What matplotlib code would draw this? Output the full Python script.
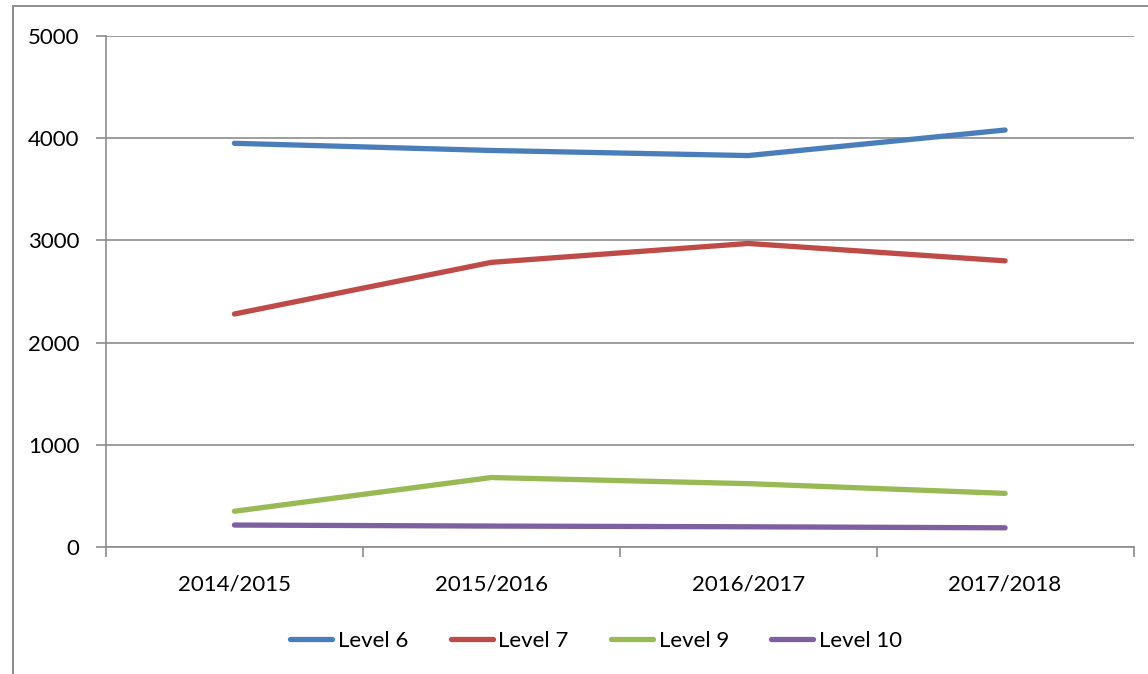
import matplotlib
matplotlib.use('Agg')
import matplotlib.pyplot as plt
from matplotlib.patches import Rectangle

# Values
years = ['2014/2015', '2015/2016', '2016/2017', '2017/2018']
level_6 = [3950, 3880, 3830, 4080]
level_7 = [2280, 2785, 2970, 2800]
level_9 = [350, 680, 620, 525]
level_10 = [215, 205, 198, 188]

series = [
    ('Level 6', level_6, '#4a7ebb'),
    ('Level 7', level_7, '#be4b48'),
    ('Level 9', level_9, '#98b954'),
    ('Level 10', level_10, '#7d60a0'),
]

plt.rcParams['font.family'] = ['Lato', 'DejaVu Sans']

fig = plt.figure(figsize=(11.48, 6.74), dpi=100)
ax = fig.add_axes([0.0923, 0.1884, 0.8951, 0.7582])

x = list(range(len(years)))
for name, vals, col in series:
    ax.plot(x, vals, color=col, lw=3.8, solid_capstyle='round', label=name)

ax.set_xlim(-0.5, len(years) - 0.5)
ax.set_ylim(0, 5000)
ax.set_yticks(range(0, 5001, 1000))
ax.set_xticks(x)
ax.set_xticklabels(years)
ax.set_xticks([i - 0.5 for i in range(len(years) + 1)], minor=True)

grid = '#8c8c8c'
ax.grid(axis='y', color=grid, lw=1.2)
ax.set_axisbelow(True)
for s in ['top', 'right']:
    ax.spines[s].set_visible(False)
for s in ['left', 'bottom']:
    ax.spines[s].set_color(grid)
    ax.spines[s].set_linewidth(1.2)

ax.tick_params(axis='y', length=7, width=1.2, color=grid, labelsize=16, pad=12)
ax.tick_params(axis='x', which='major', length=0, labelsize=16, pad=20)
ax.tick_params(axis='x', which='minor', length=7, width=1.2, color=grid)

leg = ax.legend(loc='center', bbox_to_anchor=(0.477, -0.183), ncol=4, frameon=False,
                fontsize=16, handlelength=1.9, handletextpad=0.25, columnspacing=1.9)

# outer chart frame (partly cut off in the reference)
fig.patches.append(Rectangle((0.0113, -0.1), 1.2, 1.091, transform=fig.transFigure,
                             fill=False, edgecolor='#8c8c8c', lw=1.4))

fig.savefig('out.png', dpi=100)
